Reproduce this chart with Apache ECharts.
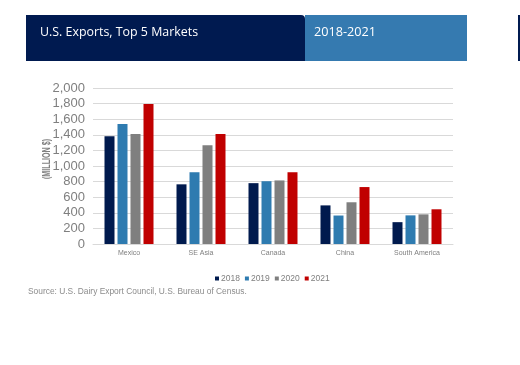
<!DOCTYPE html>
<html><head><meta charset="utf-8">
<script src="https://cdn.jsdelivr.net/npm/echarts@6/dist/echarts.min.js"></script>
<style>html,body{margin:0;padding:0;background:#fff}#c{width:520px;height:365px}</style>
</head><body><div id="c"></div>
<script>
const categories = ['Mexico','SE Asia','Canada','China','South America'];
const years = ['2018','2019','2020','2021'];
const v2018 = [1380, 765, 780, 495, 280];
const v2019 = [1540, 920, 805, 365, 367];
const v2020 = [1410, 1265, 815, 535, 380];
const v2021 = [1795, 1410, 920, 730, 445];
const yTicks = [0, 200, 400, 600, 800, 1000, 1200, 1400, 1600, 1800, 2000];
const colors = ['#001a4e', '#2e7bb0', '#7f7f7f', '#c00000'];
const seriesData = [v2018, v2019, v2020, v2021];

const chart = echarts.init(document.getElementById('c'), null, {renderer:'canvas'});
chart.setOption({
  animation:false,
  graphic:[
    {type:'rect', shape:{x:305,y:15,width:162,height:46}, style:{fill:'#357ab0'}},
    {type:'rect', shape:{x:26,y:15,width:279,height:46,r:[0,4,0,0]}, style:{fill:'#001a50'}},
    {type:'rect', shape:{x:518,y:15,width:4,height:46}, style:{fill:'#001a50'}},
    {type:'text', left:40, top:26, style:{text:'U.S. Exports, Top 5 Markets', fill:'#ffffff', font:'12.4px "Open Sans", sans-serif'}},
    {type:'text', left:314, top:26, style:{text:'2018-2021', fill:'#ffffff', font:'12.7px "Open Sans", sans-serif'}},
    {type:'text', left:28, top:288, style:{text:'Source: U.S. Dairy Export Council, U.S. Bureau of Census.', fill:'#8c8c8c', font:'8.4px "Liberation Sans", Arial, sans-serif'}},
    {type:'text', x:47, y:159, rotation:Math.PI/2, scaleX:0.68,
      style:{text:'(MILLION $)', fill:'#7f7f7f', font:'bold 10.5px "Liberation Sans", Arial, sans-serif', textAlign:'center', textVerticalAlign:'middle'}}
  ],
  legend:{
    data: years, top:269, left:210, itemWidth:4, itemHeight:4, itemGap:5,
    icon:'rect',
    textStyle:{color:'#7f7f7f', fontSize:8.5, fontFamily:'"Liberation Sans", Arial, sans-serif', padding:[0,0,0,-3]}
  },
  grid:{left:93, right:67, top:88, bottom:121, containLabel:false},
  xAxis:{
    type:'category', data:categories,
    axisLine:{lineStyle:{color:'#d9d9d9'}}, axisTick:{show:false},
    axisLabel:{color:'#7f7f7f', fontSize:7, fontFamily:'"Liberation Sans", Arial, sans-serif', margin:6}
  },
  yAxis:{
    type:'value', min:0, max:2000, interval:200,
    axisLine:{show:false}, axisTick:{show:false},
    splitLine:{lineStyle:{color:'#d9d9d9', width:1}},
    axisLabel:{color:'#7f7f7f', fontSize:13, fontFamily:'"Liberation Sans", Arial, sans-serif', margin:8,
      formatter: v => yTicks.includes(v) ? v.toLocaleString('en-US') : ''}
  },
  series: years.map((y,i)=>({
    name:y, type:'bar', data:seriesData[i], barWidth:10, barGap:'30%',
    itemStyle:{color:colors[i]}
  }))
});
</script></body></html>
